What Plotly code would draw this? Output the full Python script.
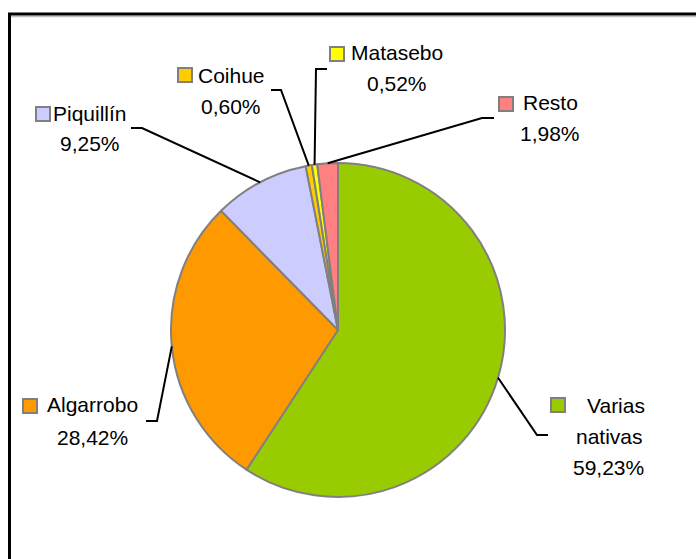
import math
import plotly.graph_objects as go

# datos (porcentaje del total)
species = ["Varias nativas", "Algarrobo", "Piquillín", "Coihue", "Matasebo", "Resto"]
shares = [59.23, 28.42, 9.25, 0.60, 0.52, 1.98]
pct_labels = ["59,23%", "28,42%", "9,25%", "0,60%", "0,52%", "1,98%"]
colors = ["#99CC00", "#FF9900", "#CCCCFF", "#FFCC00", "#FFFF00", "#FF8080"]

W, H = 696, 559
CX, CY, R = 338, 330, 167


def px(x):
    return x / W


def py_(y):
    return 1 - y / H


fig = go.Figure()
fig.add_trace(go.Pie(
    labels=species, values=shares, sort=False, direction="clockwise", rotation=0,
    marker=dict(colors=colors, line=dict(color="#808080", width=2)),
    textinfo="none", hoverinfo="skip",
    domain=dict(x=[px(CX - R), px(CX + R)], y=[py_(CY + R), py_(CY - R)]),
))

# label layout: (name line centres, pct centre, key square, elbow start, elbow end)
label_layout = {
    "Varias nativas": dict(lines=[("Varias", 616, 405), ("nativas", 609, 436)], pct=(608, 467),
                           key=(551, 398), elbow=[(548, 435), (537, 435)]),
    "Algarrobo": dict(lines=[("Algarrobo", 92, 404)], pct=(92, 437),
                      key=(23, 399), elbow=[(146, 421), (157, 421)]),
    "Piquillín": dict(lines=[("Piquillín", 90, 113)], pct=(90, 143),
                      key=(36, 107), elbow=[(131, 128), (142, 128)]),
    "Coihue": dict(lines=[("Coihue", 231, 75)], pct=(231, 106),
                   key=(178, 68), elbow=[(271, 90), (281, 90)]),
    "Matasebo": dict(lines=[("Matasebo", 397, 53)], pct=(397, 84),
                     key=(330, 47), elbow=[(327, 69), (316, 69)]),
    "Resto": dict(lines=[("Resto", 550, 103)], pct=(550, 133),
                  key=(499, 97), elbow=[(494, 118), (482, 118)]),
}

font = dict(family="Liberation Sans, Arial", size=21, color="#000000")
total = sum(shares)
cum = 0.0
shapes = []
annotations = []
for name, val, pct, col in zip(species, shares, pct_labels, colors):
    mid = (cum + val / 2) / total * 2 * math.pi
    cum += val
    ex = CX + R * math.sin(mid)
    ey = CY - R * math.cos(mid)
    lay = label_layout[name]
    (x0, y0), (x1, y1) = lay["elbow"]
    shapes.append(dict(type="path", xref="paper", yref="paper",
                       path=f"M {px(x0)} {py_(y0)} L {px(x1)} {py_(y1)} L {px(ex)} {py_(ey)}",
                       line=dict(color="black", width=2)))
    kx, ky = lay["key"]
    shapes.append(dict(type="rect", xref="paper", yref="paper",
                       x0=px(kx), x1=px(kx + 14), y0=py_(ky + 14), y1=py_(ky),
                       fillcolor=col, line=dict(color="#808080", width=2)))
    for txt, tx, ty in lay["lines"]:
        annotations.append(dict(text=txt, x=px(tx), y=py_(ty), xref="paper", yref="paper",
                                xanchor="center", yanchor="middle", showarrow=False, font=font))
    annotations.append(dict(text=pct, x=px(lay["pct"][0]), y=py_(lay["pct"][1]),
                            xref="paper", yref="paper", xanchor="center", yanchor="middle",
                            showarrow=False, font=font))

# outer frame (only top and left visible)
shapes.append(dict(type="line", xref="paper", yref="paper", x0=px(10), x1=px(800),
                   y0=py_(16.5), y1=py_(16.5), line=dict(color="#C0C0C0", width=1.5)))
shapes.append(dict(type="path", xref="paper", yref="paper",
                   path=f"M {px(9.5)} {py_(800)} L {px(9.5)} {py_(14)} L {px(900)} {py_(14)}",
                   line=dict(color="black", width=3)))

fig.update_layout(
    width=W, height=H, margin=dict(l=0, r=0, t=0, b=0),
    paper_bgcolor="white", plot_bgcolor="white", showlegend=False,
    shapes=shapes, annotations=annotations, hovermode=False,
)

fig.write_html("out.html", config={"displayModeBar": False},
               post_script="document.body.style.margin='0';document.body.style.overflow='hidden';")
